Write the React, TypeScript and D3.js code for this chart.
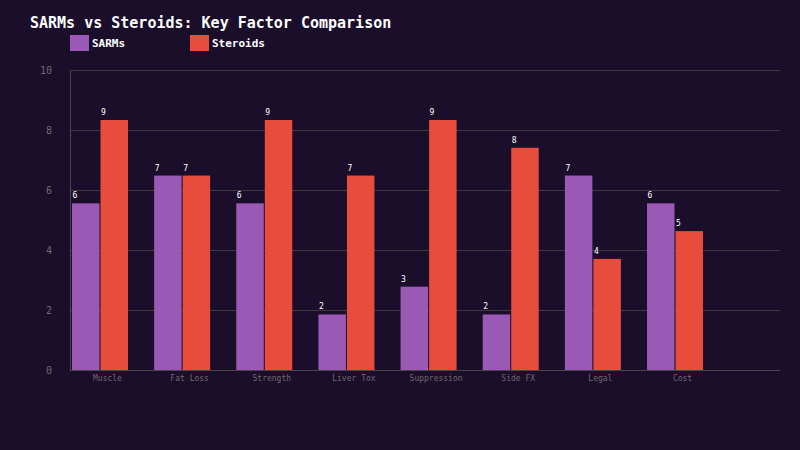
import React, { useRef, useEffect } from "react";
import * as d3 from "d3";

// factor scores per category
const categories = ["Muscle", "Fat Loss", "Strength", "Liver Tox", "Suppression", "Side FX", "Legal", "Cost"];
const seriesNames = ["SARMs", "Steroids"];
const sarms = [6, 7, 6, 2, 3, 2, 7, 6];
const steroids = [9, 7, 9, 7, 9, 8, 4, 5];
const yTicks = [0, 2, 4, 6, 8, 10];

const colors = ["#9b59b6", "#e74c3c"];
const bg = "#1a0e2a";
const font = "'DejaVu Sans Mono', 'Liberation Mono', monospace";

export default function App() {
  const chartRef = useRef<HTMLDivElement>(null);

  useEffect(() => {
    const width = 800;
    const height = 450;
    const plot = { left: 70, right: 780, top: 70, bottom: 370 };

    const svg = d3
      .select(chartRef.current)
      .html("")
      .append("svg")
      .attr("width", width)
      .attr("height", height)
      .style("display", "block")
      .style("background", bg);

    // axis scale shows 0-10, bars leave 20% headroom above the max
    const yAxis = d3.scaleLinear().domain([0, 10]).range([plot.bottom, plot.top]);
    const maxVal = d3.max([...sarms, ...steroids]) as number;
    const yBar = d3.scaleLinear().domain([0, maxVal * 1.2]).range([plot.bottom, plot.top]);

    const x0 = d3.scaleBand().domain(categories).range([72, 718]).paddingInner(0.136);
    const x1 = d3.scaleBand().domain(seriesNames).range([0, 56]).paddingInner(0.036);

    // grid
    svg
      .append("g")
      .selectAll("line")
      .data(yTicks.slice(1))
      .enter()
      .append("line")
      .attr("x1", plot.left)
      .attr("x2", plot.right)
      .attr("y1", (d) => Math.round(yAxis(d)) + 0.5)
      .attr("y2", (d) => Math.round(yAxis(d)) + 0.5)
      .attr("stroke", "#3c3a3c")
      .attr("stroke-width", 1);

    // y tick labels
    svg
      .append("g")
      .selectAll("text")
      .data(yTicks)
      .enter()
      .append("text")
      .attr("x", 52)
      .attr("y", (d) => yAxis(d))
      .attr("dy", "0.35em")
      .attr("text-anchor", "end")
      .attr("fill", "#6e6a70")
      .style("font-family", font)
      .style("font-size", "10px")
      .text((d) => d);

    // bars
    const groups = svg
      .append("g")
      .selectAll("g")
      .data(categories)
      .enter()
      .append("g")
      .attr("transform", (d) => `translate(${x0(d)},0)`);

    const rows = (i: number) =>
      seriesNames.map((s, k) => ({ s, k, v: k === 0 ? sarms[i] : steroids[i] }));

    groups
      .selectAll("rect")
      .data((d, i) => rows(i))
      .enter()
      .append("rect")
      .attr("x", (d) => x1(d.s) as number)
      .attr("y", (d) => yBar(d.v))
      .attr("width", x1.bandwidth())
      .attr("height", (d) => plot.bottom - yBar(d.v))
      .attr("fill", (d) => colors[d.k]);

    groups
      .selectAll("text")
      .data((d, i) => rows(i))
      .enter()
      .append("text")
      .attr("x", (d) => (x1(d.s) as number) + 0.5)
      .attr("y", (d) => yBar(d.v) - 5)
      .attr("fill", "#ffffff")
      .style("font-family", font)
      .style("font-size", "8px")
      .text((d) => d.v);

    // axis lines
    svg
      .append("line")
      .attr("x1", plot.left + 0.5)
      .attr("x2", plot.left + 0.5)
      .attr("y1", plot.top)
      .attr("y2", plot.bottom)
      .attr("stroke", "#4a464a");
    svg
      .append("line")
      .attr("x1", plot.left)
      .attr("x2", plot.right)
      .attr("y1", plot.bottom + 0.5)
      .attr("y2", plot.bottom + 0.5)
      .attr("stroke", "#4a464a");

    // x labels
    svg
      .append("g")
      .selectAll("text")
      .data(categories)
      .enter()
      .append("text")
      .attr("x", (d) => (x0(d) as number) + x0.bandwidth() / 2)
      .attr("y", 381)
      .attr("text-anchor", "middle")
      .attr("fill", "#6e6a70")
      .style("font-family", font)
      .style("font-size", "8px")
      .text((d) => d);

    // title
    svg
      .append("text")
      .attr("x", 30)
      .attr("y", 28)
      .attr("fill", "#ffffff")
      .style("font-family", font)
      .style("font-size", "15px")
      .style("font-weight", "bold")
      .text("SARMs vs Steroids: Key Factor Comparison");

    // legend
    const legend = svg
      .append("g")
      .selectAll("g")
      .data(seriesNames)
      .enter()
      .append("g")
      .attr("transform", (d, i) => `translate(${70 + i * 120},35)`);
    legend
      .append("rect")
      .attr("width", 19)
      .attr("height", 16)
      .attr("fill", (d, i) => colors[i]);
    legend
      .append("text")
      .attr("x", 22)
      .attr("y", 8)
      .attr("dy", "0.35em")
      .attr("fill", "#ffffff")
      .style("font-family", font)
      .style("font-size", "11px")
      .style("font-weight", "bold")
      .text((d) => d);
  }, []);

  return (
    <div
      ref={chartRef}
      style={{ position: "absolute", left: 0, top: 0, width: 800, height: 450, background: bg }}
    ></div>
  );
}
